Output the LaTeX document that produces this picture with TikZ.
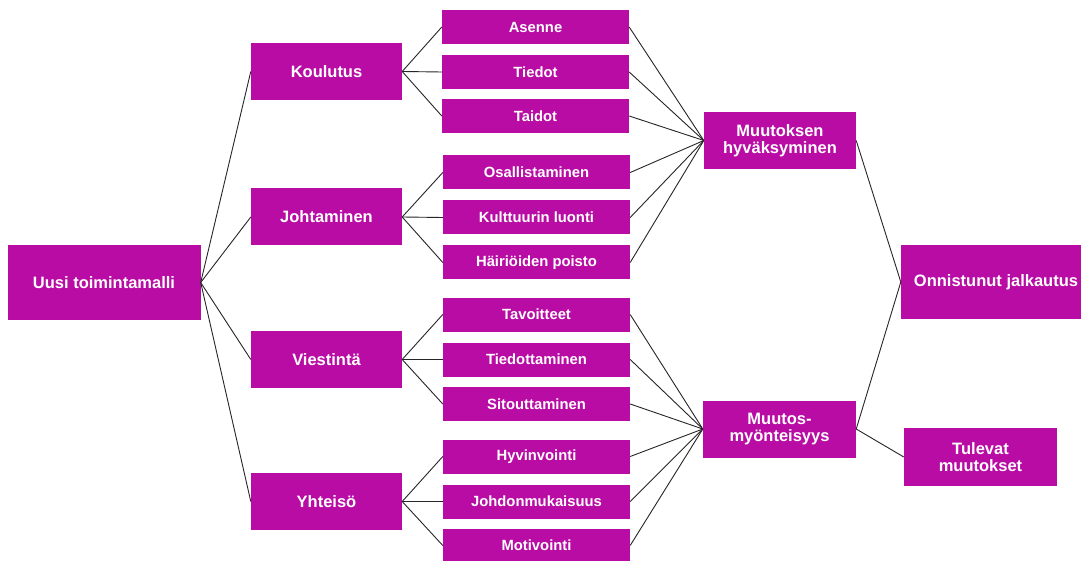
\documentclass[tikz,border=0pt]{standalone}
\usepackage{fontspec}
\setmainfont{Liberation Sans}
\definecolor{plum}{RGB}{184,12,164}
\begin{document}
\begin{tikzpicture}[x=1pt,y=-1pt,
  box/.style={fill=plum, text=white, align=center, inner sep=0pt},
  big/.style={box, minimum width=151pt, minimum height=57pt,
    font=\fontsize{16.5}{17}\selectfont\bfseries},
  leaf/.style={box, minimum width=187pt, minimum height=34pt,
    font=\fontsize{14.8}{17}\selectfont\bfseries},
  link/.style={draw=black!85, line width=0.9pt}]
\clip (0,0) rectangle (1081,561);
\fill[white] (0,0) rectangle (1081,561);

% root and the four themes
\node[big, minimum width=193pt, minimum height=75pt] (root) at (104,282.5) {Uusi toimintamalli};
\node[big] (kou) at (326.5,71.5) {Koulutus};
\node[big] (joh) at (326.5,217) {Johtaminen};
\node[big] (vie) at (326.5,359.5) {Viestintä};
\node[big] (yht) at (326.5,501.5) {Yhteisö};

% leaves
\node[leaf] (l1)  at (535.5,27)    {Asenne};
\node[leaf] (l2)  at (535.5,72)    {Tiedot};
\node[leaf] (l3)  at (535.5,116)   {Taidot};
\node[leaf] (l4)  at (536.5,172.5) {Osallistaminen};
\node[leaf] (l5)  at (536.5,217.5) {Kulttuurin luonti};
\node[leaf] (l6)  at (536.5,262.5) {Häiriöiden poisto};
\node[leaf] (l7)  at (536.5,314.5) {Tavoitteet};
\node[leaf] (l8)  at (536.5,359.5) {Tiedottaminen};
\node[leaf] (l9)  at (536.5,404)   {Sitouttaminen};
\node[leaf] (l10) at (536.5,456.5) {Hyvinvointi};
\node[leaf] (l11) at (536.5,501.5) {Johdonmukaisuus};
\node[leaf] (l12) at (536.5,545.5) {Motivointi};

% outcomes
\node[big, minimum width=152pt] (hyv) at (780,140.5) {Muutoksen\\hyväksyminen};
\node[big, minimum width=153pt] (myo) at (779.5,429) {Muutos-\\myönteisyys};
\node[big, minimum width=190pt, minimum height=74pt] (onn) at (996,282) {Onnistunut jalkautus};
\node[big, minimum width=153pt, minimum height=58pt] (tul) at (980.5,457) {Tulevat\\muutokset};

% connectors
\foreach \t in {kou,joh,vie,yht}
  \draw[link] (root.east) -- (\t.west);
\foreach \a/\b in {kou/l1,kou/l2,kou/l3,joh/l4,joh/l5,joh/l6,
                   vie/l7,vie/l8,vie/l9,yht/l10,yht/l11,yht/l12}
  \draw[link] (\a.east) -- (\b.west);
\foreach \l in {l1,l2,l3,l4,l5,l6}
  \draw[link] (\l.east) -- (hyv.west);
\foreach \l in {l7,l8,l9,l10,l11,l12}
  \draw[link] (\l.east) -- (myo.west);
\draw[link] (hyv.east) -- (onn.west);
\draw[link] (myo.east) -- (onn.west);
\draw[link] (myo.east) -- (tul.west);
\end{tikzpicture}
\end{document}
